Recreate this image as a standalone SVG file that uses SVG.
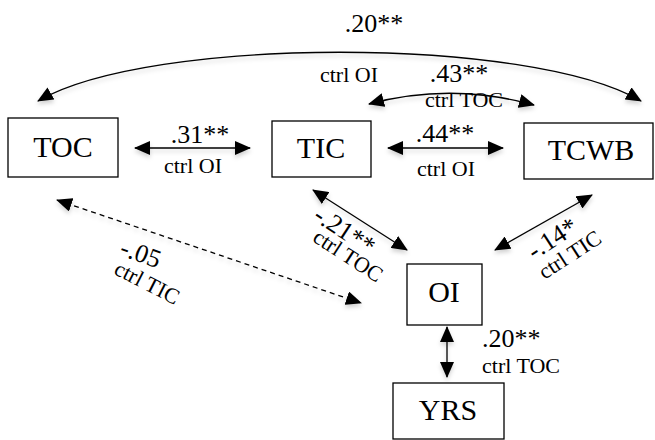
<svg xmlns="http://www.w3.org/2000/svg" width="655" height="440" viewBox="0 0 655 440">
<style>
.box{fill:#fff;stroke:#000;stroke-width:1.3}
text{font-family:'Liberation Serif','Times New Roman',serif;fill:#000}
.nl{font-size:30px;text-anchor:middle}
.n{font-size:26px}
.c{font-size:22px}
.m{text-anchor:middle}
.ln{fill:none;stroke:#000;stroke-width:1.3;marker-start:url(#ah);marker-end:url(#ah)}
.dash{stroke-dasharray:5 4}
</style>
<defs>
<marker id="ah" viewBox="0 0 16 14" refX="15" refY="7" markerWidth="16" markerHeight="14" markerUnits="userSpaceOnUse" orient="auto-start-reverse">
<path d="M0,0 L16,7 L0,14 Z" fill="#000"/>
</marker>
<filter id="sh" x="-10%" y="-30%" width="120%" height="160%">
<feDropShadow dx="0" dy="3" stdDeviation="2" flood-color="#000" flood-opacity="0.18"/>
</filter>
</defs>
<g id="connectors" filter="url(#sh)">
<path class="ln" d="M38,101 C150,36 530,36 641,101"/>
<path class="ln" d="M369,104 Q451,82 534,105"/>
<path class="ln" d="M135,148 L250,148"/>
<path class="ln" d="M388,148 L503,148"/>
<path class="ln dash" d="M57,200 L361,303"/>
<path class="ln" d="M313,190 L407,250"/>
<path class="ln" d="M592,195 L495,250"/>
<path class="ln" d="M447,327 L447,377"/>
</g>
<g id="labels">
<text class="n m" x="374" y="32">.20**</text>
<text class="c m" x="349" y="82">ctrl OI</text>
<text class="n m" x="459" y="82">.43**</text>
<text class="c m" x="464" y="107">ctrl TOC</text>
<text class="n m" x="200" y="143">.31**</text>
<text class="c m" x="193" y="173">ctrl OI</text>
<text class="n m" x="445" y="142">.44**</text>
<text class="c m" x="446" y="176">ctrl OI</text>
<text class="n m" transform="translate(141,253) rotate(20)" y="9">-.05</text>
<text class="c m" transform="translate(147,283) rotate(27)" y="7">ctrl TIC</text>
<text class="n m" transform="translate(345,230) rotate(33)" y="9">-.21**</text>
<text class="c m" transform="translate(348,256) rotate(33)" y="7">ctrl TOC</text>
<text class="n m" transform="translate(552,238) rotate(-33)" y="9">-.14*</text>
<text class="c m" transform="translate(570,255) rotate(-33)" y="7">ctrl TIC</text>
<text class="n" x="482" y="347">.20**</text>
<text class="c" x="482" y="373">ctrl TOC</text>
</g>
<g id="TOC"><rect class="box" x="8" y="118" width="110" height="59"/><text class="nl" x="63" y="157">TOC</text></g>
<g id="TIC"><rect class="box" x="272" y="121" width="99" height="56"/><text class="nl" x="321" y="158">TIC</text></g>
<g id="TCWB"><rect class="box" x="524" y="123" width="129" height="56"/><text class="nl" x="591" y="160">TCWB</text></g>
<g id="OI"><rect class="box" x="407" y="264" width="75" height="61"/><text class="nl" x="444" y="302">OI</text></g>
<g id="YRS"><rect class="box" x="393" y="383" width="111" height="56"/><text class="nl" x="448" y="420">YRS</text></g>
</svg>
